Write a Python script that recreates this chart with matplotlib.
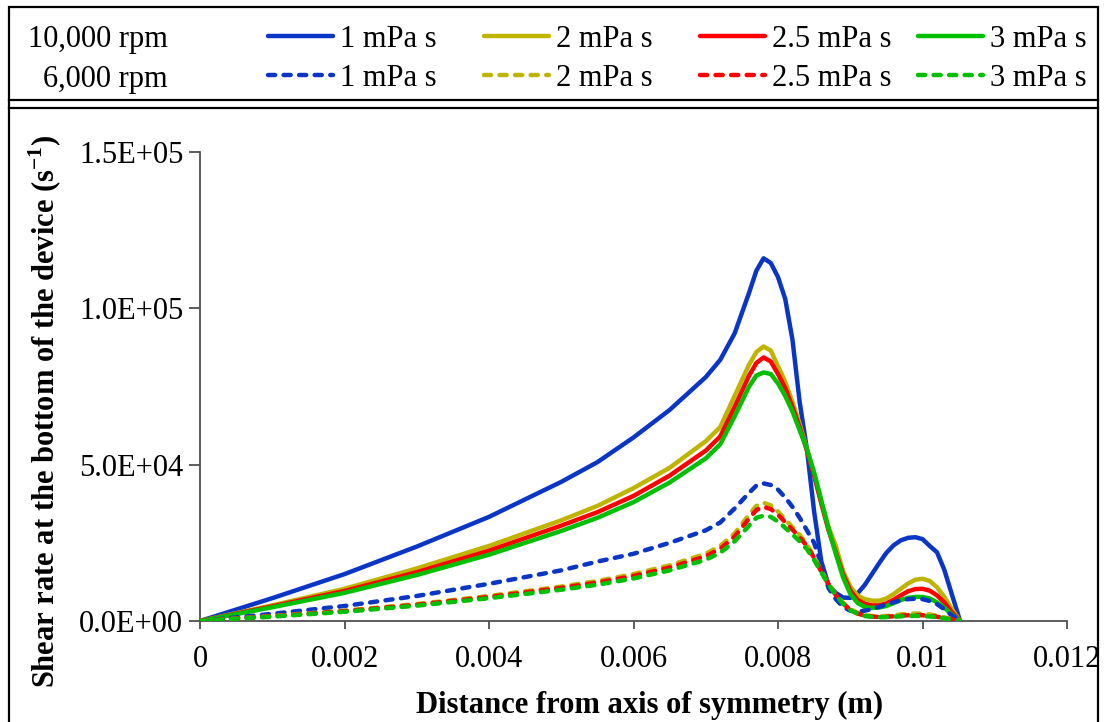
import matplotlib
matplotlib.use("Agg")
import matplotlib.pyplot as plt
from matplotlib.lines import Line2D
from matplotlib.patches import Rectangle

plt.rcParams['font.family'] = ['Liberation Serif', 'DejaVu Serif']
plt.rcParams['mathtext.fontset'] = 'custom'
plt.rcParams['mathtext.rm'] = 'Liberation Serif'
plt.rcParams['mathtext.bf'] = 'Liberation Serif:bold'

# ---------------- data ----------------
distance = [0, 0.001, 0.002, 0.003, 0.004, 0.005, 0.0055, 0.006, 0.0065, 0.007,
            0.0072, 0.0074, 0.0076, 0.0077,
            0.0078, 0.0079, 0.0080, 0.0081, 0.0082, 0.0083, 0.0084, 0.0085, 0.0086,
            0.0087, 0.0088, 0.0089, 0.0090, 0.0091, 0.0092, 0.0093, 0.0094, 0.0095,
            0.0096, 0.0097, 0.0098, 0.0099, 0.0100, 0.0101, 0.0102, 0.0103, 0.0104,
            0.01052]

rpm10k_1 = [0, 7300, 15000, 23800, 33300, 44500, 50800, 58700, 67500, 78000,
            83500, 92000, 105000, 112000,
            116000, 114500, 110000, 103000, 90000, 70000, 55000, 35000, 19000,
            11500, 9000, 7500, 7400, 8800, 11500, 15000, 18500, 21800,
            24200, 25800, 26600, 26800, 26200, 24000, 22000, 16500, 9000,
            0]
rpm10k_2 = [0, 5000, 10300, 16800, 24000, 32200, 36800, 42500, 49000, 57500,
            62000, 72000, 82000, 86000,
            87800, 86500, 81500, 76500, 70000, 63000, 55000, 47000, 38000,
            30000, 24000, 16000, 11000, 8200, 7000, 6500, 6500, 7200,
            8600, 10300, 12000, 13200, 13500, 12800, 10800, 7800, 4000,
            0]
rpm10k_25 = [0, 4700, 9600, 15600, 22500, 30500, 34800, 40000, 46500, 54500,
             59000, 68500, 78500, 82500,
             84300, 83000, 79000, 74500, 68500, 62000, 54500, 46500, 37500,
             29000, 22000, 15000, 9800, 6800, 5500, 5000, 5000, 5600,
             6800, 8200, 9500, 10200, 10300, 9700, 8200, 6000, 3000,
             0]
rpm10k_3 = [0, 4400, 9000, 14700, 21200, 28800, 33000, 38000, 44300, 52000,
            56500, 65500, 75000, 78500,
            79500, 79000, 76000, 72000, 67000, 61000, 55000, 47500, 38500,
            29500, 21500, 14000, 8700, 5800, 4500, 4200, 4300, 4800,
            5700, 6700, 7400, 7700, 7700, 7200, 6000, 4300, 2200,
            0]

rpm6k_1 = [0, 2300, 4800, 8000, 11900, 16200, 19000, 21500, 25000, 29000,
           31500, 36000, 41000, 43300,
           44000, 43500, 42000, 39500, 36500, 33000, 29000, 25000, 18000,
           10500, 7000, 4500, 3300, 3000, 3300, 3800, 4500, 5300,
           6000, 6600, 7000, 7100, 7000, 6400, 5400, 3800, 1900,
           0]
rpm6k_2 = [0, 1600, 3300, 5400, 8000, 11000, 12800, 15000, 17800, 21500,
           24000, 28000, 34000, 36800,
           37800, 37000, 35000, 32500, 30000, 27500, 24500, 20500, 16000,
           12000, 8500, 5800, 3800, 2600, 1900, 1600, 1500, 1600,
           1800, 2100, 2300, 2400, 2300, 2100, 1700, 1200, 600,
           0]
rpm6k_25 = [0, 1500, 3150, 5200, 7700, 10600, 12300, 14400, 17100, 20700,
            23100, 27000, 32800, 35500,
            36500, 35800, 34000, 31600, 29200, 26800, 24000, 20200, 15800,
            11800, 8300, 5600, 3600, 2400, 1700, 1400, 1300, 1350,
            1500, 1700, 1850, 1900, 1850, 1650, 1350, 950, 500,
            0]
rpm6k_3 = [0, 1400, 2950, 4900, 7300, 10000, 11600, 13600, 16200, 19600,
           21800, 25500, 30500, 33000,
           33700, 33300, 31800, 29800, 27700, 25500, 23000, 19500, 15500,
           11600, 8200, 5500, 3500, 2300, 1600, 1300, 1200, 1250,
           1350, 1500, 1600, 1650, 1600, 1450, 1200, 850, 450,
           0]

viscosity_labels = ["1 mPa s", "2 mPa s", "2.5 mPa s", "3 mPa s"]
speed_labels = ["10,000 rpm", "6,000 rpm"]
series_10k = [rpm10k_1, rpm10k_2, rpm10k_25, rpm10k_3]
series_6k = [rpm6k_1, rpm6k_2, rpm6k_25, rpm6k_3]
colors = ["#0A36C8", "#BDB500", "#FF0000", "#00C000"]

xticks = [0, 0.002, 0.004, 0.006, 0.008, 0.010, 0.012]
xtick_labels = ["0", "0.002", "0.004", "0.006", "0.008", "0.01", "0.012"]
yticks = [0, 50000, 100000, 150000]
ytick_labels = ["0.0E+00", "5.0E+04", "1.0E+05", "1.5E+05"]

# ---------------- figure ----------------
W, H = 1106, 722
fig = plt.figure(figsize=(W / 100, H / 100), dpi=100)
fig.patch.set_facecolor("white")

def fx(px):
    return px / W

def fy(py):
    return 1 - py / H

ax = fig.add_axes([fx(200), fy(621), fx(1067) - fx(200), fy(152) - fy(621)])

solid_handles = []
dashed_handles = []
for ys, c in zip(series_10k, colors):
    h, = ax.plot(distance, ys, color=c, lw=3.2, solid_capstyle='round',
                 solid_joinstyle='round', zorder=3)
    solid_handles.append(h)
for ys, c in zip(series_6k, colors):
    h, = ax.plot(distance, ys, color=c, lw=3.2, dashes=(1.6, 1.9),
                 dash_capstyle='round', dash_joinstyle='round', zorder=3)
    dashed_handles.append(h)

ax.set_xlim(0, 0.012)
ax.set_ylim(0, 150000)
ax.set_xticks(xticks)
ax.set_xticklabels(xtick_labels)
ax.set_yticks(yticks)
ax.set_yticklabels(ytick_labels)
for s in ["top", "right"]:
    ax.spines[s].set_visible(False)
for s in ["left", "bottom"]:
    ax.spines[s].set_color("#505050")
    ax.spines[s].set_linewidth(1.3)
ax.tick_params(axis='y', direction='out', length=8, width=1.1, color="#303030",
               labelsize=22, pad=4)
ax.tick_params(axis='x', direction='out', length=6, width=1.1, color="#303030",
               labelsize=22, pad=11)

ax.set_xlabel("Distance from axis of symmetry (m)", fontsize=22, fontweight='bold')
ax.set_ylabel(r"Shear rate at the bottom of the device (s$^{\mathbf{-1}}$)",
              fontsize=22, fontweight='bold')
ax.xaxis.set_label_coords((650 - 200) / 867, -0.149)
ax.yaxis.set_label_coords(-0.157, 0.446)

# ---------------- legend block ----------------
col_x = [268, 484, 700, 918]
for i in range(4):
    fig.legend([solid_handles[i], dashed_handles[i]],
               [viscosity_labels[i], viscosity_labels[i]],
               loc='upper left', bbox_to_anchor=(fx(col_x[i]), fy(25)),
               frameon=False, fontsize=22, handlelength=2.13,
               handletextpad=0.23, borderpad=0, borderaxespad=0,
               labelspacing=0.33)

fig.text(fx(168), fy(47), speed_labels[0], ha='right', va='baseline', fontsize=22)
fig.text(fx(168), fy(87), speed_labels[1], ha='right', va='baseline', fontsize=22)

# ---------------- frame ----------------
fig.add_artist(Rectangle((fx(9), fy(730)), fx(1098) - fx(9), fy(7) - fy(730),
                         transform=fig.transFigure, fill=False,
                         edgecolor='black', lw=1.6, zorder=10))
for py in (100, 108):
    fig.add_artist(Line2D([fx(9), fx(1098)], [fy(py), fy(py)],
                          transform=fig.transFigure, color='black', lw=1.6))

fig.savefig("out.png", dpi=100, facecolor="white")
